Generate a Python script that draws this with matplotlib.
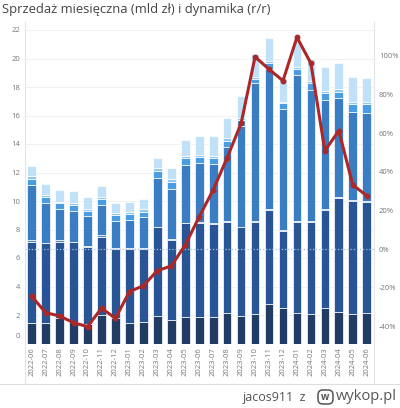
import numpy as np
import matplotlib
matplotlib.use('Agg')
import matplotlib.pyplot as plt
import matplotlib.transforms as mtransforms
from matplotlib.lines import Line2D
from matplotlib.patches import FancyBboxPatch

# miesiace 2022-06 .. 2024-06
miesiace = ['2022-06', '2022-07', '2022-08', '2022-09', '2022-10', '2022-11', '2022-12',
            '2023-01', '2023-02', '2023-03', '2023-04', '2023-05', '2023-06', '2023-07',
            '2023-08', '2023-09', '2023-10', '2023-11', '2023-12', '2024-01', '2024-02',
            '2024-03', '2024-04', '2024-05', '2024-06']

# skladowe slupkow (mld zl), od dolu
seg_granat = [1.42, 1.42, 1.77, 1.49, 1.40, 2.00, 1.77, 1.42, 1.53, 1.95, 1.65, 1.88, 1.88,
              1.88, 2.16, 1.95, 2.08, 2.75, 2.47, 2.16, 2.05, 2.47, 2.23, 2.05, 2.16]
seg_ciemny = [5.73, 5.61, 5.35, 5.61, 5.39, 5.48, 4.88, 5.23, 5.09, 6.20, 5.61, 6.55, 6.57,
              6.50, 6.39, 6.20, 6.47, 6.62, 5.44, 6.39, 6.50, 6.90, 7.97, 7.97, 7.74]
seg_pasek = [0.11, 0.05, 0.14, 0.05, 0.05, 0.10, 0.05, 0.05, 0.10, 0.05, 0.05, 0.05, 0.05,
             0.05, 0.05, 0.05, 0.05, 0.05, 0.05, 0.05, 0.05, 0.05, 0.10, 0.05, 0.10]
seg_sredni = [3.86, 2.76, 2.18, 2.15, 2.11, 2.12, 1.92, 1.97, 2.18, 3.39, 3.51, 4.02, 4.19,
              4.14, 5.21, 7.06, 9.66, 9.82, 8.48, 10.24, 9.19, 7.67, 6.91, 6.20, 6.15]
seg_jasny = [0.45, 0.42, 0.40, 0.42, 0.35, 0.46, 0.38, 0.39, 0.35, 0.51, 0.51, 0.50, 0.40,
             0.43, 0.40, 0.42, 0.32, 0.42, 0.42, 0.40, 0.47, 0.47, 0.46, 0.54, 0.66]
seg_cienki = [0.18, 0.16, 0.11, 0.16, 0.14, 0.14, 0.13, 0.14, 0.19, 0.19, 0.19, 0.18, 0.16,
              0.16, 0.19, 0.17, 0.14, 0.19, 0.11, 0.18, 0.18, 0.16, 0.17, 0.16, 0.16]
seg_blady = [0.73, 0.77, 0.82, 0.82, 0.84, 0.77, 0.75, 0.75, 0.70, 0.75, 0.77, 1.10, 1.31,
             1.40, 1.45, 1.52, 1.60, 1.57, 1.57, 1.78, 1.50, 1.66, 1.82, 1.75, 1.64]

# dynamika r/r (%)
dynamika = [-24.5, -33.0, -34.7, -38.2, -40.2, -30.7, -35.9, -22.1, -19.0, -11.2, -8.8, 2.1,
            16.7, 30.6, 47.3, 65.1, 99.6, 93.1, 87.2, 109.7, 96.2, 50.9, 61.3, 33.2, 27.6]

lewe_ticki = [0, 2, 4, 6, 8, 10, 12, 14, 16, 18, 20, 22]
prawe_ticki = [-40, -20, 0, 20, 40, 60, 80, 100]

plt.rcParams['font.family'] = ['Open Sans', 'DejaVu Sans']

W, H = 400, 408
fig = plt.figure(figsize=(W / 100, H / 100), dpi=100)

# pozycje w pikselach (od gory obrazka)
x_l, x_r, y_top, y_0 = 25, 374, 22, 343.5
ax = fig.add_axes([x_l / W, 1 - y_0 / H, (x_r - x_l) / W, (y_0 - y_top) / H])

x = np.arange(len(miesiace))
segmenty = [seg_granat, seg_ciemny, seg_pasek, seg_sredni, seg_jasny, seg_cienki, seg_blady]
kolory = ['#213d66', '#285596', '#5d86b8', '#3a7dc3', '#4a9de3', '#8ec8f0', '#c0e1f7']
dol = np.zeros(len(miesiace))
for seg, kol in zip(segmenty, kolory):
    ax.bar(x, seg, width=0.62, bottom=dol, color=kol, edgecolor='white', linewidth=0.5, zorder=2)
    dol += np.array(seg)

ax.set_xlim(-0.48, 24.52)
ax.set_ylim(0, (y_0 - y_top) / 14.25)
ax.set_yticks(lewe_ticki)
ax.set_xticks(x)
ax.set_xticklabels(miesiace, rotation=90)
ax.grid(axis='y', color='#efefef', linewidth=0.6, zorder=0)
ax.set_axisbelow(True)
ax.tick_params(length=0, labelsize=5.5, colors='#777777')
ax.tick_params(axis='x', pad=2.5)
ax.tick_params(axis='y', pad=3.5)
for s in ax.spines.values():
    s.set_visible(False)

# os procentowa
ax2 = ax.twinx()
ax2.set_ylim((249 - y_0) / 1.93, (249 - y_top) / 1.93)
ax2.set_yticks(prawe_ticki)
ax2.set_yticklabels([f'{v}%' for v in prawe_ticki])
ax2.tick_params(length=0, labelsize=5.5, colors='#777777', pad=3.5)
for s in ax2.spines.values():
    s.set_visible(False)
ax2.axhline(0, color='#a9c2dc', linestyle=(0, (1, 1.5)), linewidth=0.9, zorder=1)
ax2.plot(x, dynamika, color='#ac2828', linewidth=2.2, marker='o', markersize=3.2, zorder=3)

# etykieta 0 troche wyzej
lab0 = ax.get_yticklabels()[0]
lab0.set_transform(lab0.get_transform() + mtransforms.ScaledTranslation(0, 6 / 72, fig.dpi_scale_trans))

# pionowe linie i separator stopki
for xp in (x_l, x_r):
    fig.add_artist(Line2D([xp / W, xp / W], [1 - y_top / H, 1 - 384 / H], color='#e4e4e4',
                          linewidth=0.8, transform=fig.transFigure))
fig.add_artist(Line2D([0, 1], [1 - 384 / H, 1 - 384 / H], color='#dddddd', linewidth=0.8,
                      transform=fig.transFigure))

fig.text(2 / W, 1 - 10 / H, 'Sprzedaż miesięczna (mld zł) i dynamika (r/r)', fontsize=9.4,
         color='#444444', va='center', ha='left')

# stopka
fig.text(243 / W, 1 - 397 / H, 'jacos911  z', fontsize=9, color='#555555', va='center', ha='left')
fig.add_artist(FancyBboxPatch((318 / W, 1 - 404 / H), 15 / W, 14 / H,
                              boxstyle='round,pad=0,rounding_size=0.012', transform=fig.transFigure,
                              facecolor='white', edgecolor='#555555', linewidth=1.1))
fig.text(325.5 / W, 1 - 397 / H, 'w', fontsize=7, fontweight='bold', color='#555555',
         va='center', ha='center')
fig.text(336 / W, 1 - 397 / H, 'wykop.pl', fontsize=10.5, color='#555555', va='center', ha='left')

fig.savefig('out.png', dpi=100)
